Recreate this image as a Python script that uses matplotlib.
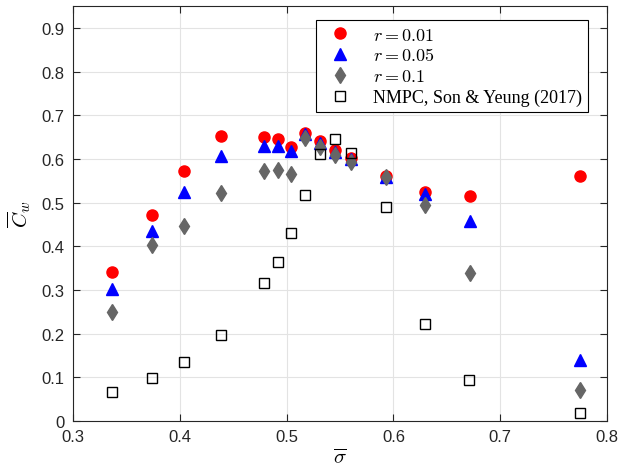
import numpy as np
import matplotlib.pyplot as plt

plt.rcParams['font.family'] = ['Liberation Sans', 'DejaVu Sans']
plt.rcParams['mathtext.fontset'] = 'cm'

# mean sigma for each case
sigma = [0.3367, 0.3741, 0.4037, 0.4389, 0.4790, 0.4920, 0.5040, 0.5175,
         0.5310, 0.5455, 0.5605, 0.5930, 0.6300, 0.6720, 0.7750]

cw_r001 = [0.340, 0.471, 0.572, 0.652, 0.649, 0.645, 0.628, 0.660,
           0.640, 0.621, 0.601, 0.560, 0.525, 0.515, 0.561]
cw_r005 = [0.303, 0.435, 0.524, 0.606, 0.630, 0.630, 0.617, 0.656,
           0.636, 0.616, 0.600, 0.558, 0.520, 0.457, 0.140]
cw_r01 = [0.249, 0.403, 0.447, 0.521, 0.572, 0.574, 0.565, 0.648,
          0.628, 0.609, 0.592, 0.558, 0.494, 0.339, 0.070]

# reference NMPC results
sigma_nmpc = [0.3367, 0.3741, 0.4037, 0.4389, 0.4790, 0.4920, 0.5040, 0.5175,
              0.5310, 0.5455, 0.5605, 0.5930, 0.6300, 0.6710, 0.7750]
cw_nmpc = [0.066, 0.098, 0.134, 0.196, 0.316, 0.363, 0.430, 0.518,
           0.611, 0.645, 0.613, 0.491, 0.222, 0.093, 0.018]

fig = plt.figure(figsize=(6.21, 4.77), dpi=100)
ax = fig.add_axes([0.1176, 0.1153, 0.8599, 0.8700])

ax.plot(sigma, cw_r001, 'o', color='red', markersize=8, label=r'$r = 0.01$')
ax.plot(sigma, cw_r005, '^', color='blue', markersize=8.5, label=r'$r = 0.05$')
ax.plot(sigma, cw_r01, 'd', color='#666666', markersize=8.5, label=r'$r = 0.1$')
ax.plot(sigma_nmpc, cw_nmpc, 's', mfc='none', mec='black', mew=1.0,
        markersize=6.5, label='NMPC, Son & Yeung (2017)')

ax.set_xlim(0.3, 0.8)
ax.set_ylim(0, 0.95)
ax.set_xticks(np.arange(0.3, 0.81, 0.1))
ax.set_yticks(np.arange(0, 0.91, 0.1))
ax.set_xticklabels(['0.3', '0.4', '0.5', '0.6', '0.7', '0.8'])
ax.set_yticklabels(['0'] + ['%.1f' % v for v in np.arange(0.1, 0.91, 0.1)])

ax.grid(True, color='#e3e3e3', linewidth=0.8)
ax.set_axisbelow(True)
ax.tick_params(direction='in', length=5, labelsize=12, colors='#262626',
               top=True, right=True, pad=6)
for s in ax.spines.values():
    s.set_color('#262626')
    s.set_linewidth(0.8)

ax.set_xlabel(r'$\overline{\sigma}$', fontsize=15, labelpad=2)
ax.set_ylabel(r'$\overline{C}_w$', fontsize=15, labelpad=6)

leg = ax.legend(loc='upper right', bbox_to_anchor=(0.981, 0.987),
                prop={'family': ['Liberation Serif'], 'size': 13},
                frameon=True, fancybox=False, edgecolor='black', framealpha=1,
                handletextpad=0.8, borderpad=0.35, labelspacing=0.2,
                handlelength=2.0)
leg.get_frame().set_linewidth(0.8)

fig.savefig('out.png', dpi=100)
